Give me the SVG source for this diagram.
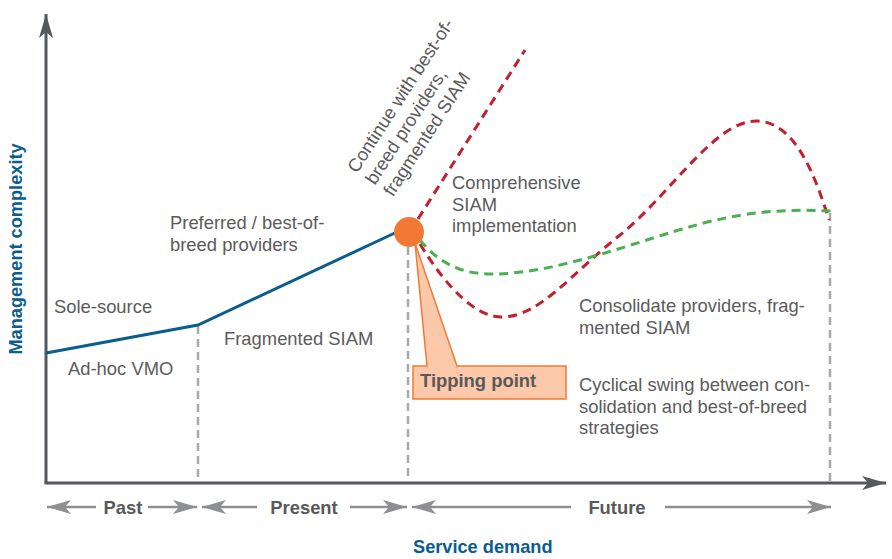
<svg xmlns="http://www.w3.org/2000/svg" width="892" height="559" viewBox="0 0 892 559">
<style>
.t{font-family:"Liberation Sans",Arial,sans-serif;font-size:18.4px;fill:#5b5b5b}
.b{font-weight:bold;fill:#58595b}
.bl{font-family:"Liberation Sans",Arial,sans-serif;font-size:18.2px;font-weight:bold;fill:#0b5d8e}
.axis{stroke:#55585c;stroke-width:3;fill:none}
.vd{stroke:#a8a9ab;stroke-width:2.5;stroke-dasharray:8 5;fill:none}
.rd{stroke:#c1202f;stroke-width:3;stroke-dasharray:9 6;fill:none}
.gd{stroke:#4bb04f;stroke-width:3;stroke-dasharray:9 6;fill:none}
.pa{stroke:#8e8f91;stroke-width:2.5;fill:none}
</style>
<defs>
<marker id="ax" markerUnits="userSpaceOnUse" viewBox="0 -8 26 16" refX="24" refY="0" markerWidth="26" markerHeight="16" orient="auto">
<path d="M0,-7 L24,0 L0,7 L6,0 Z" fill="#55585c"/>
</marker>
<marker id="pa" markerUnits="userSpaceOnUse" viewBox="0 -8 26 16" refX="24" refY="0" markerWidth="26" markerHeight="16" orient="auto-start-reverse">
<path d="M0,-7 L24,0 L0,7 L6,0 Z" fill="#8e8f91"/>
</marker>
</defs>

<g id="axes">
<line class="axis" x1="46" y1="483" x2="46" y2="14" marker-end="url(#ax)"/>
<line class="axis" x1="44.5" y1="483" x2="886" y2="483" marker-end="url(#ax)"/>
<text class="bl" transform="translate(22,249) rotate(-90)" text-anchor="middle">Management complexity</text>
<text class="bl" x="413" y="553">Service demand</text>
</g>

<g id="connectors">
<line class="vd" x1="198" y1="326" x2="198" y2="482"/>
<line class="vd" x1="408" y1="247" x2="408" y2="482"/>
<line class="vd" x1="830" y1="213" x2="830" y2="482"/>
<polyline points="46,353 198,325 397,232" fill="none" stroke="#0b5d8e" stroke-width="3"/>
<line class="rd" x1="418" y1="219" x2="525" y2="50"/>
<path class="rd" d="M420 244 C445 285,475 318,503 317 C540 316,570 275,620 235 C670 195,715 120,757 121 C795 122,815 175,829 220"/>
<path class="gd" d="M420 240 C440 265,465 275,495 274 C560 273,640 240,700 224 C760 208,800 210,834 211"/>
</g>

<g id="tipping-point">
<path d="M415 243 L427 366 L413 366 L413 399 L566 399 L566 366 L457 366 Z" fill="#fbc9a9" stroke="#f07a35" stroke-width="1.5" stroke-linejoin="miter"/>
<circle cx="409" cy="232" r="15" fill="#f27935"/>
<text class="t b" x="420" y="387">Tipping point</text>
</g>

<g id="labels">
<text class="t" x="54" y="313">Sole-source</text>
<text class="t" x="68" y="375">Ad-hoc VMO</text>
<text class="t" x="224" y="345">Fragmented SIAM</text>
<text class="t" x="170" y="229">Preferred / best-of-<tspan x="170" dy="21.5">breed providers</tspan></text>
<text class="t" x="452" y="189">Comprehensive<tspan x="452" dy="21.5">SIAM</tspan><tspan x="452" dy="21.5">implementation</tspan></text>
<text class="t" x="579" y="312">Consolidate providers, frag-<tspan x="579" dy="21.5">mented SIAM</tspan></text>
<text class="t" x="579" y="391">Cyclical swing between con-<tspan x="579" dy="21.5">solidation and best-of-breed</tspan><tspan x="579" dy="21.5">strategies</tspan></text>
<text class="t" transform="translate(357,174) rotate(-57)">Continue with best-of-<tspan x="0" dy="21.5">breed providers,</tspan><tspan x="0" dy="21.5">fragmented SIAM</tspan></text>
</g>

<g id="periods">
<line class="pa" x1="47" y1="507" x2="96" y2="507" marker-start="url(#pa)"/>
<line class="pa" x1="148" y1="507" x2="197" y2="507" marker-end="url(#pa)"/>
<text class="t b" x="123" y="514" text-anchor="middle">Past</text>
<line class="pa" x1="202" y1="507" x2="257" y2="507" marker-start="url(#pa)"/>
<line class="pa" x1="350" y1="507" x2="407" y2="507" marker-end="url(#pa)"/>
<text class="t b" x="304" y="514" text-anchor="middle">Present</text>
<line class="pa" x1="412" y1="507" x2="571" y2="507" marker-start="url(#pa)"/>
<line class="pa" x1="665" y1="507" x2="831" y2="507" marker-end="url(#pa)"/>
<text class="t b" x="617" y="514" text-anchor="middle">Future</text>
</g>
</svg>
